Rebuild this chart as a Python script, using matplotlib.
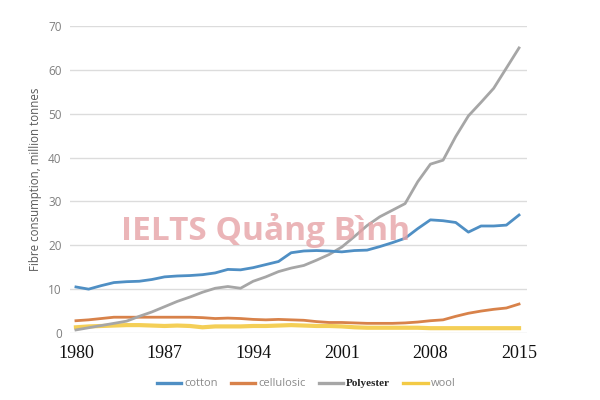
import matplotlib
matplotlib.use('Agg')
from matplotlib import pyplot as plt
from matplotlib.lines import Line2D

years = list(range(1980, 2016))

cotton = [10.5, 10.0, 10.8, 11.5, 11.7, 11.8, 12.2, 12.8, 13.0, 13.1,
          13.3, 13.7, 14.5, 14.4, 14.9, 15.6, 16.3, 18.3, 18.7, 18.8,
          18.7, 18.5, 18.8, 18.9, 19.7, 20.6, 21.6, 23.8, 25.8, 25.6,
          25.2, 23.0, 24.4, 24.4, 24.6, 26.9]
cellulosic = [2.8, 3.0, 3.3, 3.6, 3.6, 3.6, 3.6, 3.6, 3.6, 3.6,
              3.5, 3.3, 3.4, 3.3, 3.1, 3.0, 3.1, 3.0, 2.9, 2.6,
              2.4, 2.4, 2.3, 2.2, 2.2, 2.2, 2.3, 2.5, 2.8, 3.0,
              3.8, 4.5, 5.0, 5.4, 5.7, 6.6]
polyester = [0.7, 1.2, 1.7, 2.2, 2.7, 3.8, 4.8, 6.0, 7.2, 8.2,
             9.3, 10.2, 10.6, 10.2, 11.8, 12.8, 14.0, 14.8, 15.4, 16.6,
             17.9, 19.6, 22.0, 24.5, 26.5, 28.0, 29.5, 34.5, 38.5, 39.4,
             44.8, 49.5, 52.6, 55.8, 60.4, 65.0]
wool = [1.3, 1.5, 1.6, 1.7, 1.8, 1.8, 1.7, 1.6, 1.7, 1.6,
        1.3, 1.5, 1.5, 1.5, 1.6, 1.6, 1.7, 1.8, 1.7, 1.6,
        1.6, 1.5, 1.3, 1.2, 1.2, 1.2, 1.2, 1.2, 1.1, 1.1,
        1.1, 1.1, 1.1, 1.1, 1.1, 1.1]

x_ticks = [1980, 1987, 1994, 2001, 2008, 2015]
y_ticks = [0, 10, 20, 30, 40, 50, 60, 70]

names = ['cotton', 'cellulosic', 'Polyester', 'wool']
colors = ['#4f8fc4', '#d8824a', '#a6a6a6', '#f3ca45']

fig = plt.figure(figsize=(6, 4), dpi=100)
ax = fig.add_axes([70 / 600, 67 / 400, 457 / 600, 307 / 400])

ax.plot(years, wool, color=colors[3], lw=3.0, alpha=0.9)
ax.plot(years, cellulosic, color=colors[1], lw=2.0)
ax.plot(years, polyester, color=colors[2], lw=2.0)
ax.plot(years, cotton, color=colors[0], lw=2.0)

ax.set_xlim(1979.53, 2015.63)
ax.set_ylim(0, 70)
ax.set_yticks(y_ticks)
ax.set_xticks(x_ticks)
ax.set_xticklabels([str(t) for t in x_ticks], family='Liberation Serif',
                   fontsize=13, color='#111111')
ax.tick_params(axis='x', length=0, pad=9)
ax.tick_params(axis='y', length=0, pad=6, labelsize=8.5, labelcolor='#7f7f7f')
for lbl in ax.get_yticklabels():
    lbl.set_family('Open Sans')
ax.grid(axis='y', color='#dcdcdc', lw=1)
ax.set_axisbelow(True)
for s in ax.spines.values():
    s.set_visible(False)

ax.set_ylabel('Fibre consumption, million tonnes', family='Open Sans',
              fontsize=8.3, color='#595959', labelpad=4)

# watermark
fig.text(266 / 600, 1 - 231 / 400, 'IELTS Quảng Bình', family='Open Sans',
         fontweight='bold', fontsize=24, color='#e6a3a6', alpha=0.8,
         ha='center', va='center')

# legend
handles = [Line2D([], [], color=c, lw=2.4) for c in colors]
leg = fig.legend(handles, names, loc='center', bbox_to_anchor=(306 / 600, 1 - 384 / 400),
                 ncol=4, frameon=False, handlelength=2.2, handletextpad=0.25,
                 columnspacing=1.2, prop={'family': 'Open Sans', 'size': 8})
for i, t in enumerate(leg.get_texts()):
    if names[i] == 'Polyester':
        t.set_family('Liberation Serif')
        t.set_fontweight('bold')
        t.set_color('#222222')
    else:
        t.set_color('#8a8a8a')

fig.savefig('out.png', dpi=100)
